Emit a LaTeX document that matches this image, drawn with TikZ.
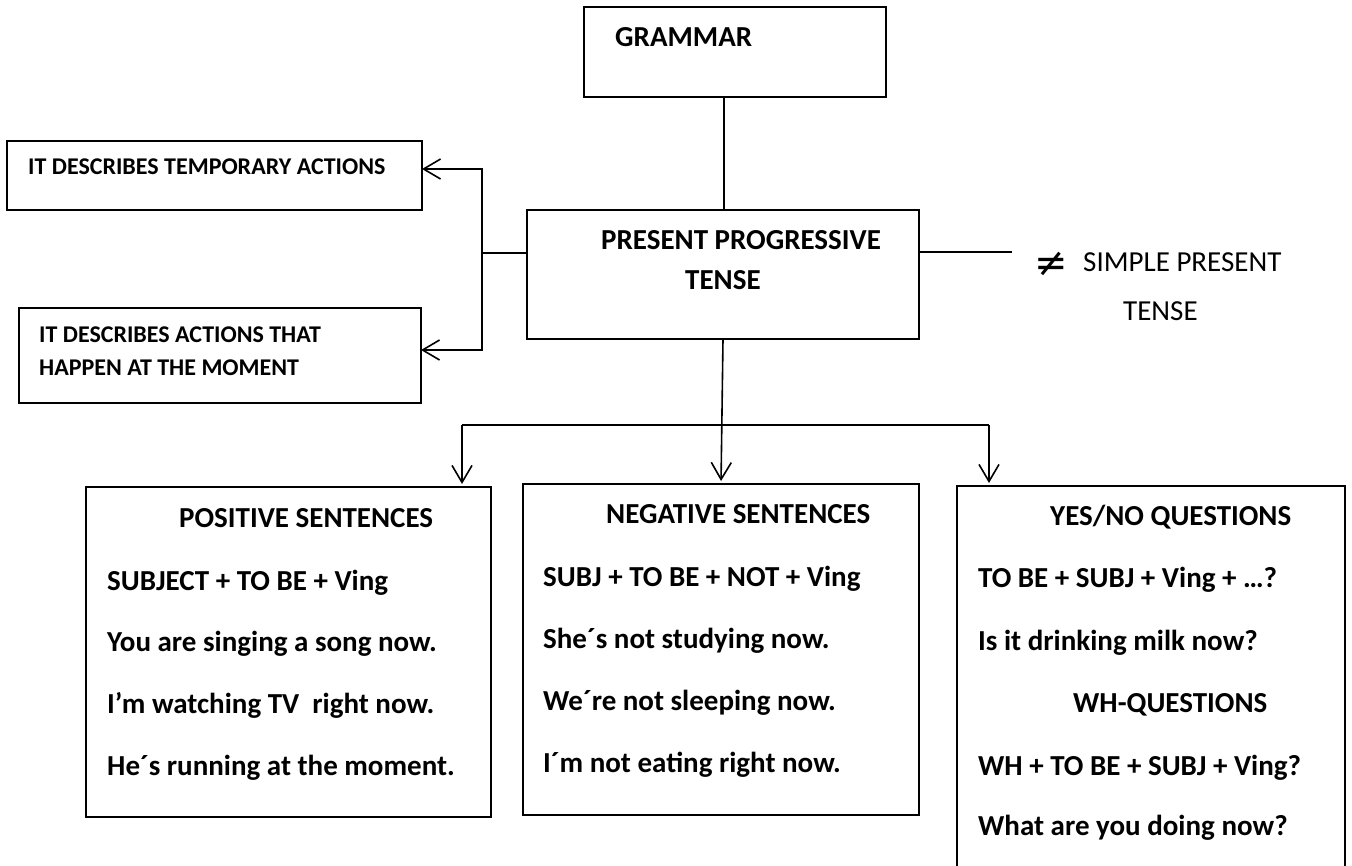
\documentclass[tikz,border=0pt]{standalone}
\usepackage{fontspec}
\setmainfont{Carlito}
\newfontfamily\symfam{DejaVu Sans}
\usetikzlibrary{arrows.meta}
\begin{document}
\begin{tikzpicture}[x=1pt,y=-1pt,
  frame/.style={draw,line width=1.6pt,rectangle,inner sep=0pt,outer sep=0pt},
  conn/.style={line width=1.6pt},
  arr/.style={conn,-{Straight Barb[length=17pt,width=20pt]}},
  big/.style={font=\fontsize{29}{35}\selectfont\bfseries,anchor=base west,inner sep=0pt},
  small/.style={font=\fontsize{24}{29}\selectfont\bfseries,anchor=base west,inner sep=0pt},
  plain/.style={font=\fontsize{29}{35}\selectfont,anchor=base west,inner sep=0pt}]
\fill[white] (0,0) rectangle (1352,865);
\useasboundingbox (0,0) rectangle (1352,865);

% boxes
\node[frame,minimum width=302pt,minimum height=90pt] (grammar) at (735,52) {};
\node[frame,minimum width=415pt,minimum height=69pt] (b1) at (214.5,175.5) {};
\node[frame,minimum width=402pt,minimum height=95pt] (b2) at (220,355.5) {};
\node[frame,minimum width=392pt,minimum height=129pt] (pp) at (723,274.5) {};
\node[frame,minimum width=405pt,minimum height=330pt] (bA) at (288.5,652) {};
\node[frame,minimum width=396pt,minimum height=331pt] (bB) at (721,649.5) {};
\node[frame,minimum width=388pt,minimum height=382pt] (bC) at (1151,677) {};

% texts
\node[big] (tg) at (615,46) {GRAMMAR};
\node[small] (t1) at (28,174) {IT DESCRIBES TEMPORARY ACTIONS};
\node[small] (t2a) at (39,342) {IT DESCRIBES ACTIONS THAT};
\node[small] (t2b) at (39,375) {HAPPEN AT THE MOMENT};
\node[big] (tpp1) at (601,249) {PRESENT PROGRESSIVE};
\node[big] (tpp2) at (685,289) {TENSE};
\node[anchor=base west,inner sep=0pt,font=\fontsize{40}{44}\selectfont\symfam] (neq) at (1034,276) {≠};
\node[plain] (sp1) at (1083,271) {SIMPLE PRESENT};
\node[plain] (sp2) at (1123,320) {TENSE};

\node[big] (a0) at (179,527) {POSITIVE SENTENCES};
\node[big] (a1) at (107,590) {SUBJECT + TO BE + Ving};
\node[big] (a2) at (107,651) {You are singing a song now.};
\node[big] (a3) at (107,713) {I’m watching TV\ \ right now.};
\node[big] (a4) at (107,775) {He´s running at the moment.};

\node[big] (n0) at (606,523) {NEGATIVE SENTENCES};
\node[big] (n1) at (543,586) {SUBJ + TO BE + NOT + Ving};
\node[big] (n2) at (543,648) {She´s not studying now.};
\node[big] (n3) at (543,710) {We´re not sleeping now.};
\node[big] (n4) at (543,772) {I´m not eating right now.};

\node[big] (q0) at (1050,525) {YES/NO QUESTIONS};
\node[big] (q1) at (978,587) {TO BE + SUBJ + Ving + …?};
\node[big] (q2) at (978,650) {Is it drinking milk now?};
\node[big] (q3) at (1073,712) {WH-QUESTIONS};
\node[big] (q4) at (978,775) {WH + TO BE + SUBJ + Ving?};
\node[big] (q5) at (978,835) {What are you doing now?};

% connectors
\coordinate (stem) at (724,0);
\draw[conn] (grammar.south -| stem) -- (pp.north -| stem);

\coordinate (lb) at (482,253);
\draw[conn] (pp.west |- lb) -- (lb);
\draw[arr] (lb) |- ([yshift=6.5pt]b1.east);
\draw[arr] (lb) |- ([yshift=5.5pt]b2.east);

\coordinate (ne) at (1012,252);
\draw[conn] (pp.east |- ne) -- (ne);

\coordinate (barL) at (462,425);
\coordinate (barR) at (989,425);
\draw[conn] (barL) -- (barR);
\draw[arr,shorten >=3pt] (pp.south) -- (bB.north);
\draw[arr,shorten >=3pt] (barL) -- (barL |- bA.north);
\draw[arr,shorten >=3pt] (barR) -- (barR |- bC.north);
\end{tikzpicture}
\end{document}
